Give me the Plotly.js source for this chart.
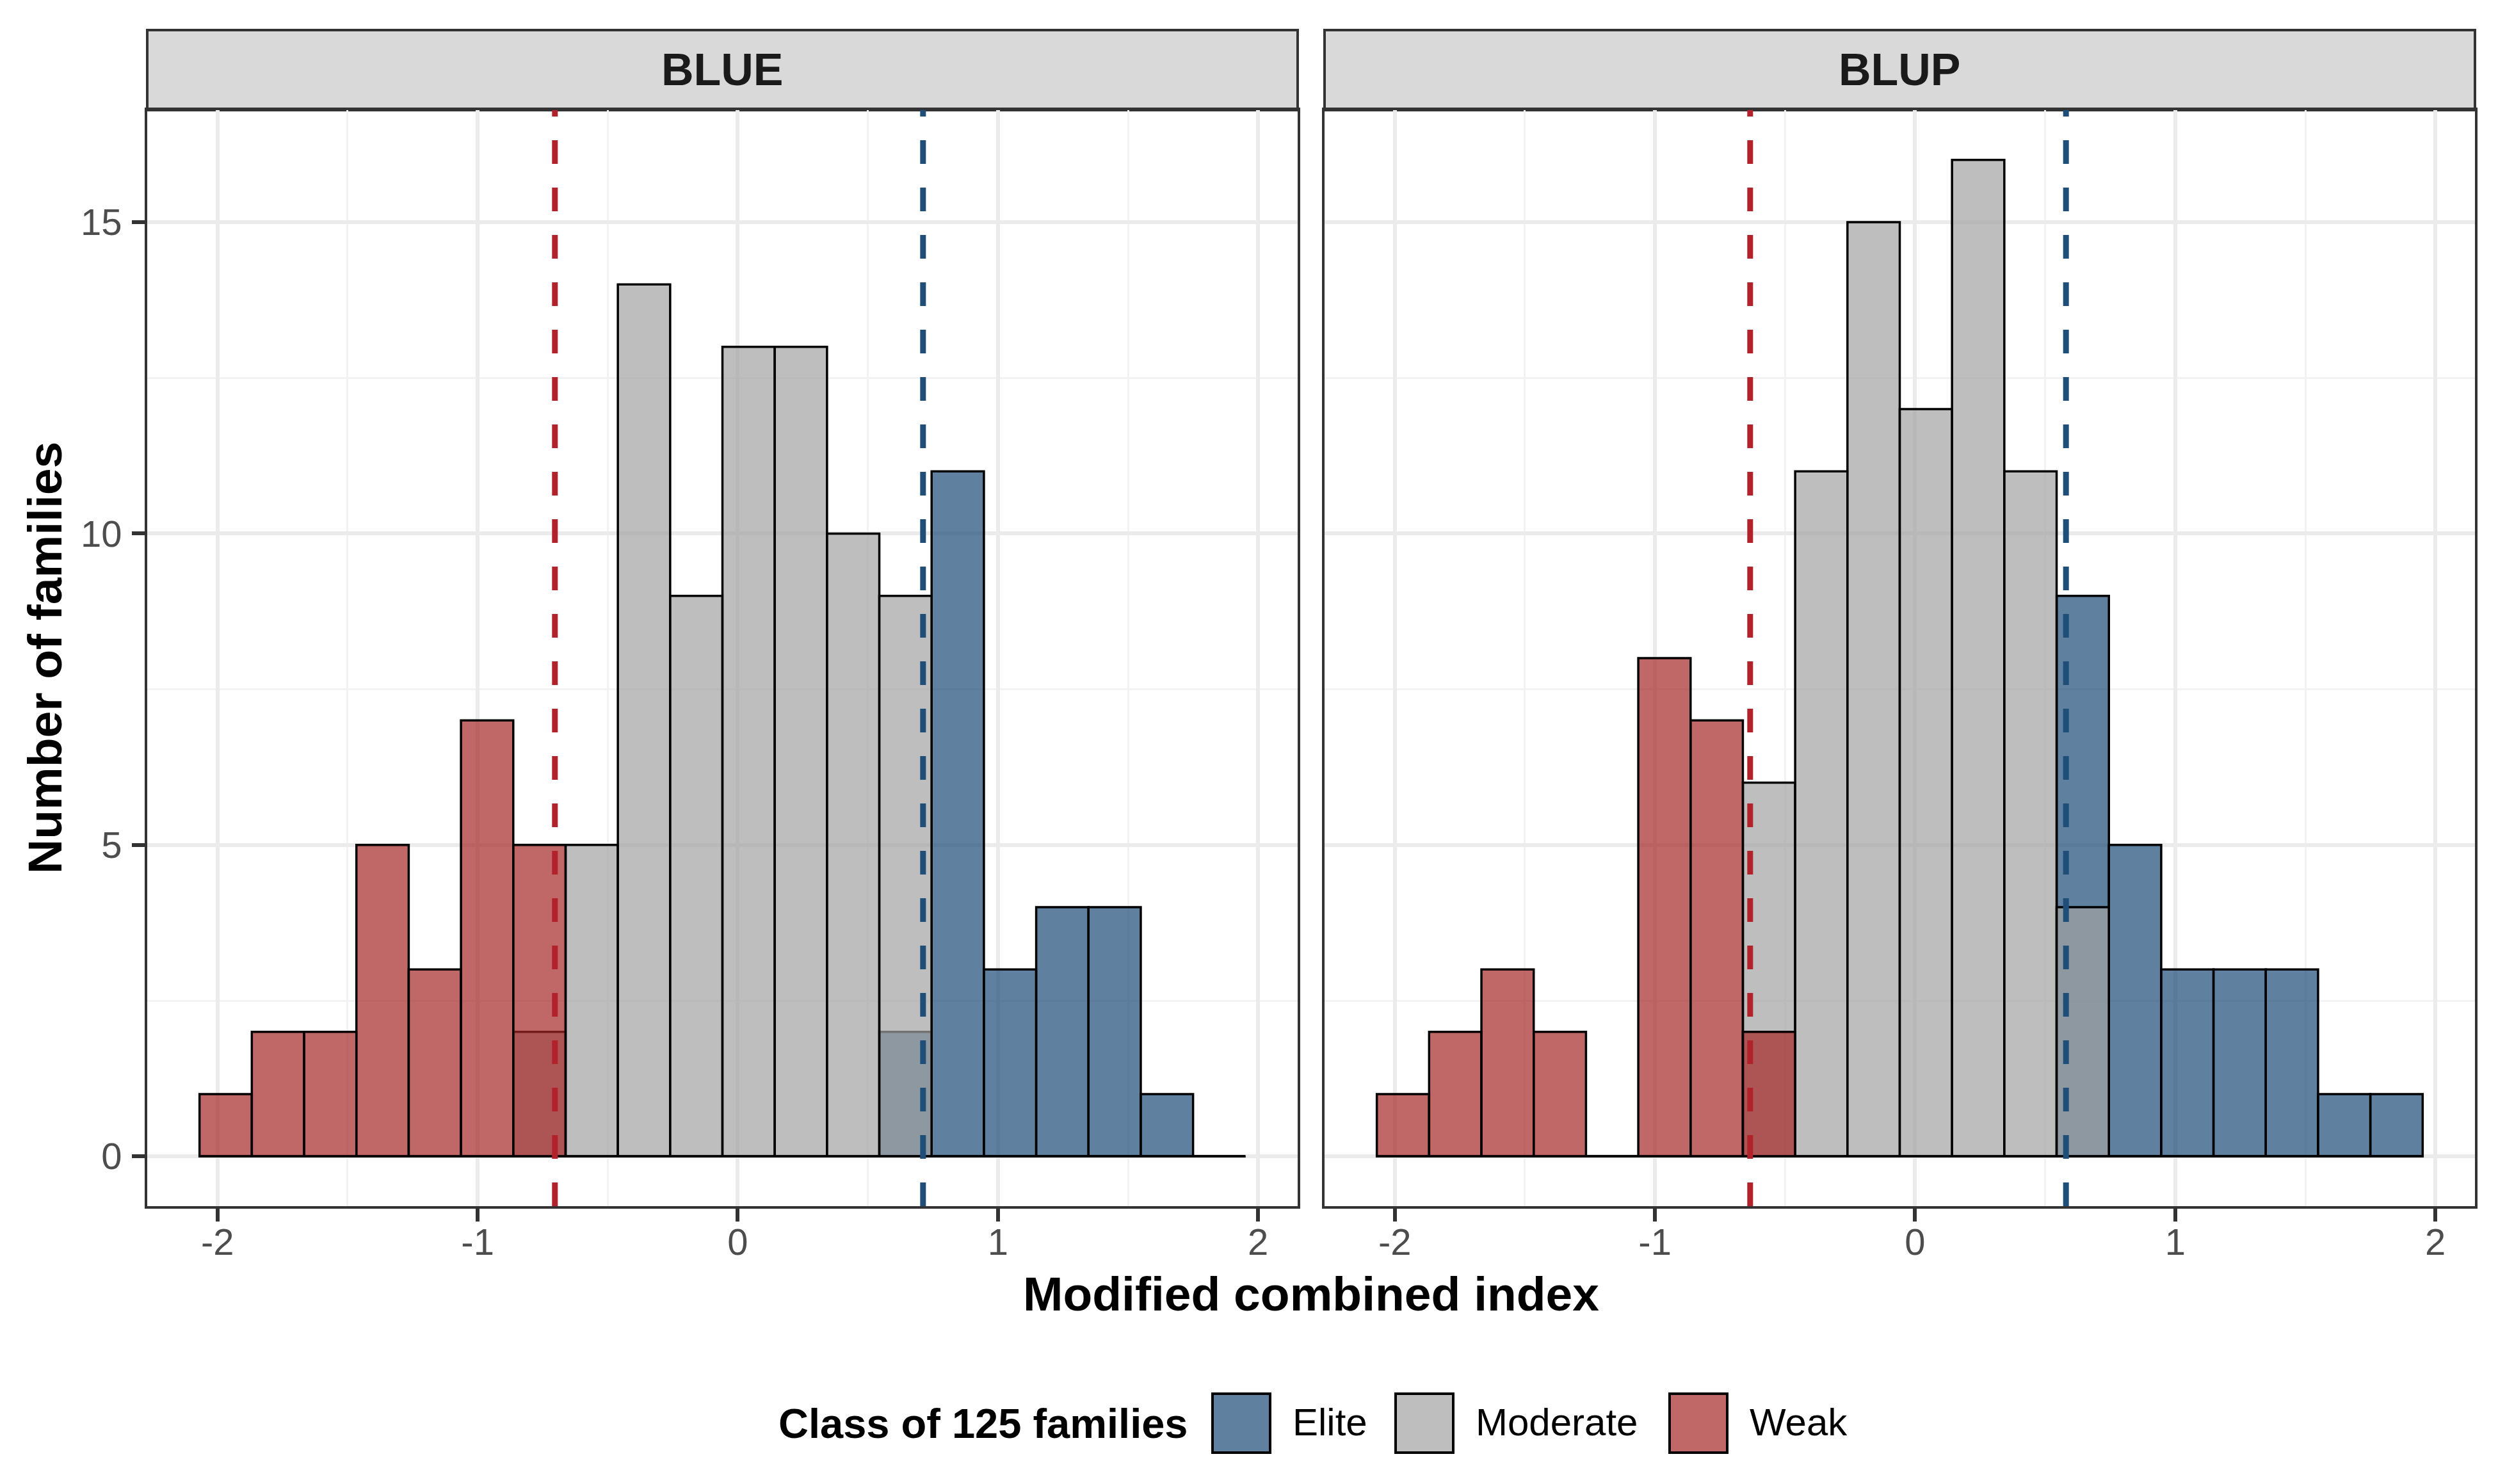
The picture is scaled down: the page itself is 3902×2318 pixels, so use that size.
<!DOCTYPE html>
<html>
<head>
<meta charset="utf-8">
<script src="https://cdn.plot.ly/plotly-3.0.1.min.js"></script>
<style>html,body{margin:0;padding:0;background:#fff;}#chart{width:3902px;height:2318px;}</style>
</head>
<body>
<div id="chart"></div>
<script>
// ---- data ----
const binCenters = [-1.9685, -1.7675, -1.5665, -1.3655, -1.1645, -0.9635, -0.7625, -0.5615, -0.3605, -0.1595,
                     0.0415,  0.2425,  0.4435,  0.6445,  0.8455,  1.0465,  1.2475,  1.4485,  1.6495,  1.8505];
const binWidth = 0.201;
const classes = ["Elite", "Moderate", "Weak"];
const facets = ["BLUE", "BLUP"];

const blueElite    = [0,0,0,0,0,0,0,0,0,0,0,0,0,2,11,3,4,4,1,0];
const blueModerate = [0,0,0,0,0,0,2,5,14,9,13,13,10,9,0,0,0,0,0,0];
const blueWeak     = [1,2,2,5,3,7,5,0,0,0,0,0,0,0,0,0,0,0,0,0];

const blupElite    = [0,0,0,0,0,0,0,0,0,0,0,0,0,9,5,3,3,3,1,1];
const blupModerate = [0,0,0,0,0,0,0,6,11,15,12,16,11,4,0,0,0,0,0,0];
const blupWeak     = [1,2,3,2,0,8,7,2,0,0,0,0,0,0,0,0,0,0,0,0];

// thresholds (weak cut, elite cut) per facet
const blueCuts = [-0.703, 0.712];
const blupCuts = [-0.634, 0.580];

const xTicks = [-2, -1, 0, 1, 2];
const yTicks = [0, 5, 10, 15];

// ---- styles ----
const W = 3902, H = 2318;
const fx = p => p / W;
const fy = p => 1 - p / H;
const fills = {Elite: "rgba(28,74,118,0.7)", Moderate: "rgba(162,162,162,0.7)", Weak: "rgba(165,39,40,0.7)"};
const cutColors = ["#B2222B", "#1F4E79"];
const FONT = "Liberation Sans, Arial, Helvetica, sans-serif";

const panelX = [[230, 2027], [2069, 3866]];
const panelTop = 172, panelBottom = 1884;
const stripTop = 47;

const facetData = [
  {Elite: blueElite, Moderate: blueModerate, Weak: blueWeak, cuts: blueCuts},
  {Elite: blupElite, Moderate: blupModerate, Weak: blupWeak, cuts: blupCuts}
];

const traces = [];
const shapes = [];
const annotations = [];

const firstEdge = binCenters[0] - binWidth / 2;
const lastEdge = binCenters[binCenters.length - 1] + binWidth / 2;

facetData.forEach((fd, i) => {
  const xa = i === 0 ? "x" : "x2";
  const ya = i === 0 ? "y" : "y2";
  // zero-height bins appear as a baseline
  traces.push({type: "scatter", mode: "lines", x: [firstEdge, lastEdge], y: [0, 0],
    xaxis: xa, yaxis: ya, line: {color: "#000", width: 3.5}, showlegend: false, hoverinfo: "skip"});
  classes.forEach(c => {
    traces.push({type: "bar", name: c, x: binCenters, y: fd[c], width: binWidth,
      xaxis: xa, yaxis: ya, showlegend: false,
      marker: {color: fills[c], line: {color: "#000", width: 3.5}}});
  });
  fd.cuts.forEach((v, k) => {
    shapes.push({type: "line", xref: xa, yref: ya + " domain", x0: v, x1: v, y0: 0, y1: 1,
      line: {color: cutColors[k], width: 9, dash: "37px,37px"}, layer: "above"});
  });
  // strip
  shapes.push({type: "rect", xref: "paper", yref: "paper",
    x0: fx(panelX[i][0]), x1: fx(panelX[i][1]), y0: fy(panelTop), y1: fy(stripTop),
    fillcolor: "#D9D9D9", line: {color: "#333333", width: 4}, layer: "below"});
  annotations.push({xref: "paper", yref: "paper", x: fx((panelX[i][0] + panelX[i][1]) / 2),
    y: fy((stripTop + panelTop) / 2), text: "<b>" + facets[i] + "</b>", showarrow: false,
    xanchor: "center", yanchor: "middle", font: {family: FONT, size: 70, color: "#1A1A1A"}});
});

// axis titles
annotations.push({xref: "paper", yref: "paper", x: fx((panelX[0][0] + panelX[1][1]) / 2), y: fy(2021), text: "<b>Modified combined index</b>",
  showarrow: false, xanchor: "center", yanchor: "middle", font: {family: FONT, size: 75, color: "#000"}});
annotations.push({xref: "paper", yref: "paper", x: fx(70), y: fy((panelTop + panelBottom) / 2), text: "<b>Number of families</b>",
  textangle: -90, showarrow: false, xanchor: "center", yanchor: "middle", font: {family: FONT, size: 75, color: "#000"}});

// legend (drawn manually for ggplot-sized keys)
const legY = 2223, keyW = 90, keyH = 92;
const keyX = [1894, 2180, 2608];
annotations.push({xref: "paper", yref: "paper", x: fx(1858), y: fy(legY), text: "<b>Class of 125 families</b>",
  showarrow: false, xanchor: "right", yanchor: "middle", font: {family: FONT, size: 65, color: "#000"}});
classes.forEach((c, k) => {
  shapes.push({type: "rect", xref: "paper", yref: "paper",
    x0: fx(keyX[k]), x1: fx(keyX[k] + keyW), y0: fy(legY + keyH / 2), y1: fy(legY - keyH / 2),
    fillcolor: fills[c], line: {color: "#000", width: 4}});
  annotations.push({xref: "paper", yref: "paper", x: fx(keyX[k] + keyW + 33), y: fy(legY - 2), text: c,
    showarrow: false, xanchor: "left", yanchor: "middle", font: {family: FONT, size: 60, color: "#000"}});
});

const xCommon = {
  range: [-2.27, 2.152], tickmode: "array", tickvals: xTicks, ticktext: xTicks.map(String),
  ticks: "outside", ticklen: 20, tickwidth: 6, tickcolor: "#333333", ticklabelstandoff: -18,
  tickfont: {family: FONT, size: 58, color: "#4D4D4D"},
  showgrid: true, gridcolor: "#EBEBEB", gridwidth: 6,
  minor: {tickmode: "array", tickvals: [-1.5, -0.5, 0.5, 1.5], showgrid: true, gridcolor: "#F2F2F2", gridwidth: 3, ticks: ""},
  showline: true, mirror: true, linecolor: "#333333", linewidth: 4, zeroline: false, automargin: false, fixedrange: true
};
const yCommon = {
  range: [-0.8, 16.8], tickmode: "array", tickvals: yTicks, ticktext: yTicks.map(String),
  ticks: "outside", ticklen: 20, tickwidth: 6, tickcolor: "#333333",
  tickfont: {family: FONT, size: 58, color: "#4D4D4D"}, ticklabelstandoff: 4,
  showgrid: true, gridcolor: "#EBEBEB", gridwidth: 6,
  minor: {tickmode: "array", tickvals: [2.5, 7.5, 12.5], showgrid: true, gridcolor: "#F2F2F2", gridwidth: 3, ticks: ""},
  showline: true, mirror: true, linecolor: "#333333", linewidth: 4, zeroline: false, automargin: false, fixedrange: true,
  domain: [fy(panelBottom), fy(panelTop)]
};

const layout = {
  width: W, height: H, margin: {l: 0, r: 0, t: 0, b: 0, pad: 0},
  paper_bgcolor: "#fff", plot_bgcolor: "#fff",
  barmode: "overlay", bargap: 0, showlegend: false,
  font: {family: FONT},
  xaxis: Object.assign({}, xCommon, {domain: [fx(panelX[0][0]), fx(panelX[0][1])], anchor: "y"}),
  xaxis2: Object.assign({}, xCommon, {domain: [fx(panelX[1][0]), fx(panelX[1][1])], anchor: "y2"}),
  yaxis: Object.assign({}, yCommon, {anchor: "x"}),
  yaxis2: Object.assign({}, yCommon, {anchor: "x2", showticklabels: false, ticks: ""}),
  shapes: shapes, annotations: annotations
};

Plotly.newPlot("chart", traces, layout, {staticPlot: true, displayModeBar: false});
</script>
</body>
</html>
